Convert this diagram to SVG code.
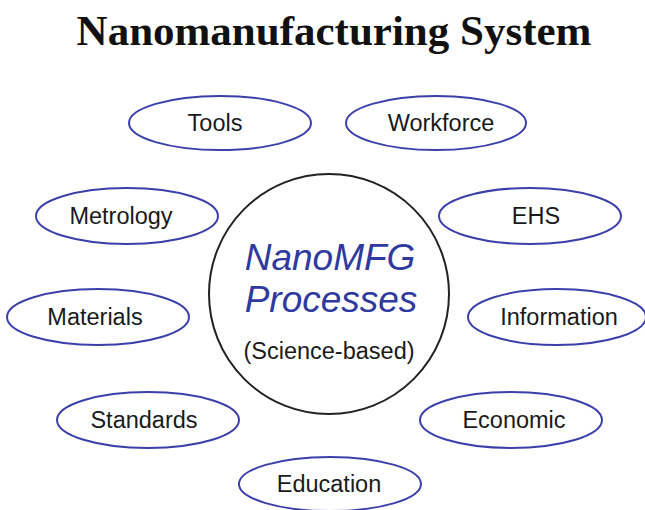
<svg xmlns="http://www.w3.org/2000/svg" width="645" height="510" viewBox="0 0 645 510">
<style>
.bg{fill:#fff}
.node ellipse{fill:#fff;stroke:#3c3faa;stroke-width:2}
.lbl{font-family:"Liberation Sans",Arial,sans-serif;font-size:23.5px;fill:#1a1a1a;text-anchor:middle}
.title{font-family:"Liberation Serif","Times New Roman",serif;font-weight:bold;font-size:43px;fill:#111;text-anchor:middle}
.core{font-family:"Liberation Sans",Arial,sans-serif;font-style:italic;font-size:37px;fill:#2f3a9e;text-anchor:middle}
</style>
<rect class="bg" width="645" height="510"/>
<text class="title" x="334" y="45">Nanomanufacturing System</text>
<g id="connectors"></g>
<g id="center">
<circle cx="329" cy="294" r="120" fill="#fff" stroke="#222" stroke-width="2"/>
<text class="core" x="330" y="270">NanoMFG</text>
<text class="core" x="331" y="312">Processes</text>
<text class="lbl" x="329" y="359">(Science-based)</text>
</g>
<g id="tools" class="node"><ellipse cx="220" cy="123" rx="91" ry="27"/><text class="lbl" x="215" y="131">Tools</text></g>
<g id="workforce" class="node"><ellipse cx="436" cy="123" rx="90" ry="27"/><text class="lbl" x="441" y="131">Workforce</text></g>
<g id="metrology" class="node"><ellipse cx="127" cy="216" rx="91" ry="28"/><text class="lbl" x="121" y="224">Metrology</text></g>
<g id="ehs" class="node"><ellipse cx="530" cy="216" rx="91" ry="28"/><text class="lbl" x="536" y="224">EHS</text></g>
<g id="materials" class="node"><ellipse cx="98" cy="317" rx="91" ry="28"/><text class="lbl" x="95" y="325">Materials</text></g>
<g id="information" class="node"><ellipse cx="557" cy="317" rx="89" ry="28"/><text class="lbl" x="559" y="325">Information</text></g>
<g id="standards" class="node"><ellipse cx="148" cy="420" rx="91" ry="28"/><text class="lbl" x="144" y="428">Standards</text></g>
<g id="economic" class="node"><ellipse cx="511" cy="420" rx="91" ry="28"/><text class="lbl" x="514" y="428">Economic</text></g>
<g id="education" class="node"><ellipse cx="330" cy="484" rx="91" ry="27"/><text class="lbl" x="329" y="492">Education</text></g>
</svg>
